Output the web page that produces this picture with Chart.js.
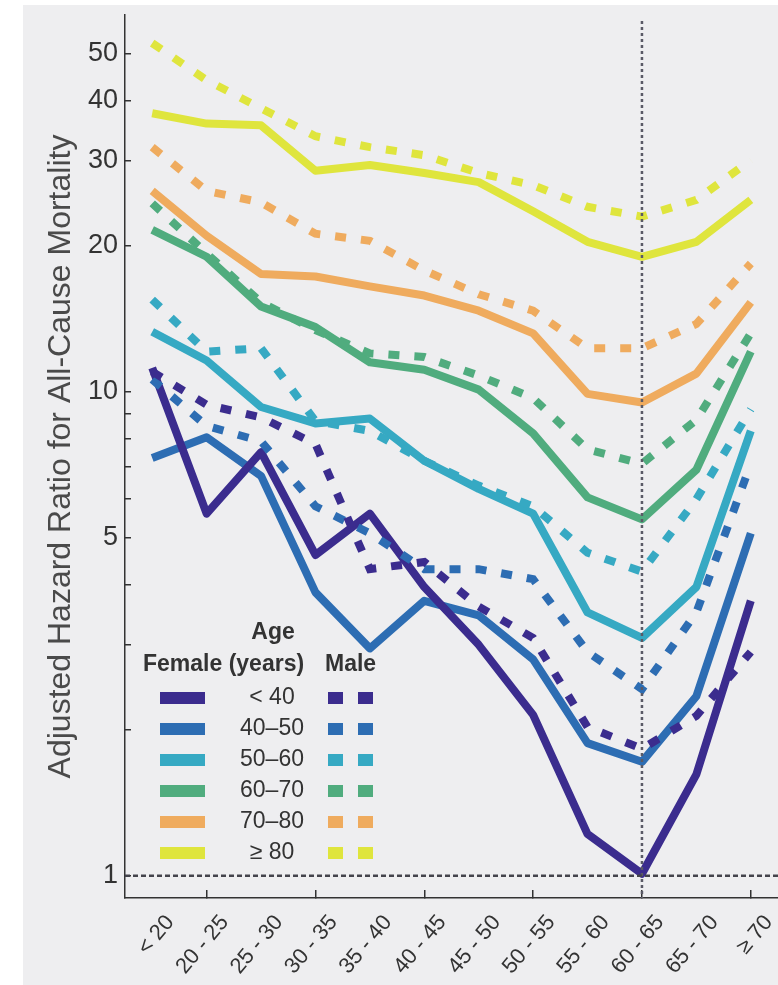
<!DOCTYPE html>
<html>
<head>
<meta charset="utf-8">
<script src="https://cdn.jsdelivr.net/npm/chart.js@4.4.0/dist/chart.umd.min.js"></script>
<style>
  html, body { margin: 0; padding: 0; background: #fff; }
  #wrap { width: 778px; height: 985px; }
</style>
</head>
<body>
<div id="wrap"><canvas id="hrChart" width="778" height="985"></canvas></div>
<script>
// age at baseline (x categories)
const ageBands = ['< 20', '20 - 25', '25 - 30', '30 - 35', '35 - 40', '40 - 45',
                  '45 - 50', '50 - 55', '55 - 60', '60 - 65', '65 - 70', '\u2265 70'];

// age groups of the legend and their colours
const ageGroups = ['< 40', '40\u201350', '50\u201360', '60\u201370', '70\u201380', '\u2265 80'];
const groupColors = ['#3b2c8e', '#2d6db3', '#36a9c3', '#50ac7e', '#efab5e', '#dfe53d'];

// adjusted hazard ratios, women (solid lines)
const femaleUnder40 = [11.2, 5.6, 7.5, 4.6, 5.6, 3.95, 3.0, 2.15, 1.22, 1.01, 1.62, 3.7];
const female40to50  = [7.3, 8.05, 6.7, 3.85, 2.95, 3.7, 3.45, 2.8, 1.88, 1.72, 2.35, 5.1];
const female50to60  = [13.3, 11.6, 9.3, 8.6, 8.8, 7.2, 6.3, 5.6, 3.5, 3.1, 3.95, 8.3];
const female60to70  = [21.6, 19.0, 15.0, 13.6, 11.5, 11.1, 10.1, 8.2, 6.05, 5.45, 6.9, 12.1];
const female70to80  = [26, 21, 17.5, 17.3, 16.5, 15.8, 14.7, 13.2, 9.9, 9.5, 10.9, 15.3];
const female80plus  = [37.6, 35.8, 35.5, 28.6, 29.4, 28.3, 27.1, 23.6, 20.4, 19.0, 20.4, 24.9];

// adjusted hazard ratios, men (dashed lines)
const maleUnder40 = [11.0, 9.4, 8.85, 7.8, 4.3, 4.45, 3.6, 3.1, 2.03, 1.83, 2.14, 2.9];
const male40to50  = [10.6, 8.5, 7.9, 5.8, 5.1, 4.3, 4.3, 4.1, 2.9, 2.43, 3.5, 7.1];
const male50to60  = [15.5, 12.1, 12.3, 8.7, 8.3, 7.2, 6.4, 5.8, 4.65, 4.25, 6.0, 9.2];
const male60to70  = [24.5, 19.3, 15.3, 13.4, 12.0, 11.8, 10.8, 9.7, 7.6, 7.1, 8.75, 13.2];
const male70to80  = [32, 26, 24.6, 21.2, 20.5, 17.8, 15.9, 14.7, 12.3, 12.3, 13.8, 18.4];
const male80plus  = [52.5, 44, 38.5, 33.7, 32, 30.8, 28.3, 26.7, 24.1, 23, 24.9, 30.1];

const femaleSeries = [femaleUnder40, female40to50, female50to60, female60to70, female70to80, female80plus];
const maleSeries = [maleUnder40, male40to50, male50to60, male60to70, male70to80, male80plus];

// y axis ticks
const yTickValues = [1, 2, 3, 4, 5, 6, 7, 8, 9, 10, 20, 30, 40, 50];
const yTickLabels = [1, 5, 10, 20, 30, 40, 50];

const refAgeBand = '60 - 65';
const refRatio = 1;

const FONT = '"Liberation Sans", Arial, Helvetica, sans-serif';

const datasets = [];
femaleSeries.forEach((vals, i) => {
    datasets.push({
        label: 'Female ' + ageGroups[i],
        data: vals,
        borderColor: groupColors[i],
        borderWidth: 8,
        borderJoinStyle: 'round',
        pointRadius: 0,
        tension: 0,
        order: 1
    });
});
maleSeries.forEach((vals, i) => {
    datasets.push({
        label: 'Male ' + ageGroups[i],
        data: vals,
        borderColor: groupColors[i],
        borderWidth: 8,
        borderDash: [11, 15],
        borderCapStyle: 'butt',
        pointRadius: 0,
        tension: 0,
        order: 0
    });
});

// grey panel behind the figure
const panelBackground = {
    id: 'panelBackground',
    beforeDraw(chart) {
        const ctx = chart.ctx;
        ctx.save();
        ctx.fillStyle = '#ffffff';
        ctx.fillRect(0, 0, chart.width, chart.height);
        ctx.fillStyle = '#eeeef0';
        ctx.fillRect(23, 5, chart.width - 23, chart.height - 5);
        ctx.restore();
    }
};

// dotted reference lines (HR = 1 and the 60-65 band)
const referenceLines = {
    id: 'referenceLines',
    afterDatasetsDraw(chart) {
        const ctx = chart.ctx;
        const area = chart.chartArea;
        const x = chart.scales.x.getPixelForValue(ageBands.indexOf(refAgeBand));
        const y = chart.scales.y.getPixelForValue(refRatio);
        ctx.save();
        ctx.lineWidth = 2.5;
        ctx.strokeStyle = '#5a5a66';
        ctx.setLineDash([3, 3]);
        ctx.beginPath();
        ctx.moveTo(x, area.top + 6);
        ctx.lineTo(x, area.bottom);
        ctx.stroke();
        ctx.strokeStyle = '#44444c';
        ctx.setLineDash([5, 3]);
        ctx.beginPath();
        ctx.moveTo(area.left, y);
        ctx.lineTo(area.right, y);
        ctx.stroke();
        ctx.restore();
    }
};

// two-column legend (female solid / male dashed)
const ageLegend = {
    id: 'ageLegend',
    afterDraw(chart) {
        const ctx = chart.ctx;
        ctx.save();
        ctx.fillStyle = '#333';
        ctx.textBaseline = 'middle';
        ctx.font = 'bold 23px ' + FONT;
        ctx.textAlign = 'center';
        ctx.fillText('Age', 273, 633);
        ctx.textAlign = 'left';
        ctx.fillText('Female (years)', 143, 665);
        ctx.fillText('Male', 325, 665);
        ctx.font = '23px ' + FONT;
        ageGroups.forEach((g, i) => {
            const y = 698 + i * 31;
            const color = chart.data.datasets[i].borderColor;
            ctx.fillStyle = color;
            ctx.fillRect(160, y - 6, 45, 12);
            ctx.fillRect(328, y - 6, 15, 12);
            ctx.fillRect(358, y - 6, 15, 12);
            ctx.fillStyle = '#333';
            ctx.textAlign = 'center';
            ctx.fillText(g, 272, y);
        });
        ctx.restore();
    }
};

new Chart(document.getElementById('hrChart').getContext('2d'), {
    type: 'line',
    data: {
        labels: ageBands,
        datasets: datasets
    },
    options: {
        responsive: false,
        animation: false,
        devicePixelRatio: 1,
        layout: {
            padding: { left: 38, top: 15, right: 0, bottom: 0 }
        },
        plugins: {
            legend: { display: false },
            tooltip: { enabled: false }
        },
        scales: {
            x: {
                type: 'category',
                offset: true,
                afterFit: (scale) => {
                    scale.height = 87;
                    scale.paddingLeft = 0;
                    scale.paddingRight = 0;
                },
                border: { display: true, color: '#333', width: 1.5 },
                grid: {
                    display: true,
                    drawOnChartArea: false,
                    offset: false,
                    tickLength: -8,
                    lineWidth: 1.5,
                    color: (c) => (c.index % 2 === 1 ? '#333' : 'rgba(0,0,0,0)')
                },
                ticks: {
                    autoSkip: false,
                    maxRotation: 50,
                    minRotation: 50,
                    labelOffset: 18,
                    padding: 20,
                    color: '#333',
                    font: { family: FONT, size: 22 }
                }
            },
            y: {
                type: 'logarithmic',
                min: 0.9,
                max: 60,
                afterFit: (scale) => {
                    scale.width = 87;
                    scale.paddingTop = 0;
                    scale.paddingBottom = 0;
                },
                afterBuildTicks: (scale) => {
                    scale.ticks = yTickValues.map(v => ({ value: v }));
                },
                border: { display: true, color: '#333', width: 1.5 },
                grid: {
                    display: true,
                    drawOnChartArea: false,
                    tickLength: -6,
                    lineWidth: 1.5,
                    color: '#333'
                },
                ticks: {
                    autoSkip: false,
                    padding: 13,
                    color: '#333',
                    font: { family: FONT, size: 27 },
                    callback: (v) => (yTickLabels.includes(v) ? String(v) : '')
                },
                title: {
                    display: true,
                    text: 'Adjusted Hazard Ratio for All-Cause Mortality',
                    color: '#4a4a4a',
                    padding: { top: 4, bottom: 4 },
                    font: { family: FONT, size: 32 }
                }
            }
        }
    },
    plugins: [panelBackground, referenceLines, ageLegend]
});
</script>
</body>
</html>
